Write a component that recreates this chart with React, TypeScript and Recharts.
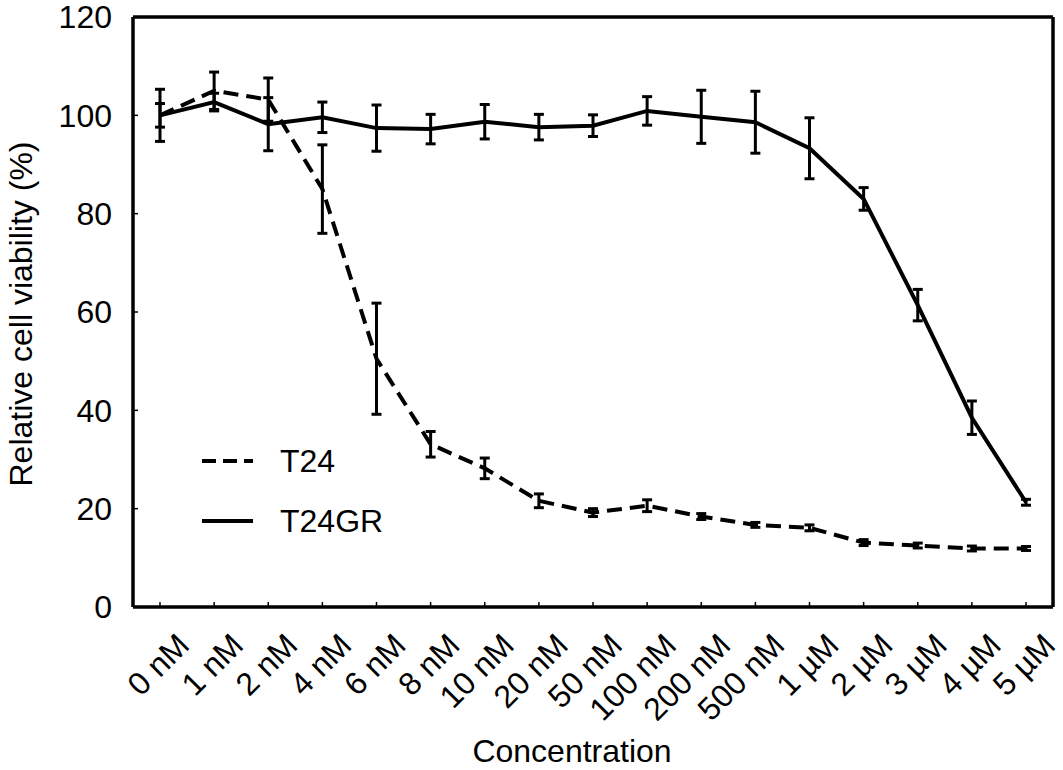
import React from 'react';
import { LineChart, Line, XAxis, YAxis, ErrorBar, Legend, Label } from 'recharts';

const categories = ['0 nM', '1 nM', '2 nM', '4 nM', '6 nM', '8 nM', '10 nM', '20 nM', '50 nM', '100 nM', '200 nM', '500 nM', '1 µM', '2 µM', '3 µM', '4 µM', '5 µM'];
const t24 = [100, 105, 103.2, 85, 50.5, 33.1, 28.2, 21.6, 19.2, 20.6, 18.4, 16.7, 16.1, 13.1, 12.5, 11.9, 11.9];
const t24Err = [2.4, 3.8, 4.4, 9, 11.3, 2.6, 2.1, 1.4, 0.8, 1.2, 0.6, 0.5, 0.6, 0.6, 0.5, 0.5, 0.4];
const t24gr = [100, 102.7, 98.2, 99.6, 97.4, 97.2, 98.7, 97.6, 97.9, 100.9, 99.7, 98.6, 93.3, 83, 61.4, 38.5, 21.3];
const t24grErr = [5.3, 1.8, 5.4, 3.1, 4.7, 3, 3.5, 2.6, 2.2, 2.9, 5.4, 6.3, 6.2, 2.3, 3.2, 3.4, 0.6];
const yTicks = [0, 20, 40, 60, 80, 100, 120];

const data = categories.map((c, i) => ({
  name: c,
  t24: t24[i],
  t24Err: t24Err[i],
  t24gr: t24gr[i],
  t24grErr: t24grErr[i],
}));

const FONT = '"Liberation Sans", Arial, sans-serif';
const FS = 32;

const YTick = (props: any) => {
  const { x, y, payload } = props;
  return (
    <g>
      <line x1={x + 21} x2={x + 26} y1={y} y2={y} stroke="#000" strokeWidth={1.5} />
      <text x={x} y={y} dy="0.35em" textAnchor="end" fontFamily={FONT} fontSize={FS} fill="#000">
        {payload.value}
      </text>
    </g>
  );
};

const XTick = (props: any) => {
  const { x, y, payload } = props;
  return (
    <g>
      <line x1={x} x2={x} y1={y - 5} y2={y} stroke="#000" strokeWidth={1.5} />
      <text
        transform={`translate(${x + 15},${y + 24}) rotate(-45)`}
        dy="0.71em"
        textAnchor="end"
        fontFamily={FONT}
        fontSize={FS}
        fill="#000"
      >
        {payload.value}
      </text>
    </g>
  );
};

const LegendBox = () => (
  <div style={{ fontFamily: FONT, fontSize: FS, color: '#000' }}>
    {[
      { label: 'T24', dash: '14 7' },
      { label: 'T24GR', dash: undefined },
    ].map((item) => (
      <div key={item.label} style={{ display: 'flex', alignItems: 'center', height: 60 }}>
        <svg width={56} height={10} style={{ marginRight: 25 }}>
          <line x1={3} x2={54} y1={5} y2={5} stroke="#000" strokeWidth={4} strokeDasharray={item.dash} />
        </svg>
        <span style={{ lineHeight: 1 }}>{item.label}</span>
      </div>
    ))}
  </div>
);

export default function App() {
  return (
    <div style={{ position: 'absolute', left: 0, top: 0, background: '#fff' }}>
      <LineChart width={1063} height={770} data={data} margin={{ top: 16, right: 9, left: 0, bottom: 0 }}>
        <XAxis
          dataKey="name"
          interval={0}
          height={163}
          padding={{ left: 27, right: 27 }}
          axisLine={{ stroke: '#000', strokeWidth: 3.5 }}
          tickLine={false}
          tickSize={0}
          tickMargin={0}
          tick={<XTick />}
        >
          <Label
            value="Concentration"
            position="insideBottom"
            offset={8}
            dx={-21}
            style={{ fontFamily: FONT, fontSize: FS, fill: '#000' }}
          />
        </XAxis>
        <XAxis xAxisId="top" dataKey="name" orientation="top" height={1} tick={false} tickLine={false} axisLine={{ stroke: '#000', strokeWidth: 3.5 }} />
        <YAxis
          domain={[0, 120]}
          ticks={yTicks}
          width={133}
          axisLine={{ stroke: '#000', strokeWidth: 3.5 }}
          tickLine={false}
          tickSize={0}
          tickMargin={21}
          tick={<YTick />}
          allowDataOverflow
        >
          <Label
            content={(p: any) => {
              const vb = p.viewBox || {};
              const cx = (vb.x || 0) + 21;
              const cy = (vb.y || 0) + (vb.height || 0) / 2 + 2;
              return (
                <text
                  x={cx}
                  y={cy}
                  transform={`rotate(-90, ${cx}, ${cy})`}
                  textAnchor="middle"
                  dy="0.35em"
                  fontFamily={FONT}
                  fontSize={FS}
                  fill="#000"
                >
                  Relative cell viability (%)
                </text>
              );
            }}
          />
        </YAxis>
        <YAxis yAxisId="right" orientation="right" width={1} domain={[0, 120]} tick={false} tickLine={false} axisLine={{ stroke: '#000', strokeWidth: 3.5 }} />
        <Legend
          layout="vertical"
          verticalAlign="middle"
          align="center"
          wrapperStyle={{ position: 'absolute', left: 199, top: 431, width: 220 }}
          content={<LegendBox />}
        />
        <Line
          type="linear"
          dataKey="t24"
          stroke="#000"
          strokeWidth={4}
          strokeDasharray="15 8"
          dot={false}
          activeDot={false}
          isAnimationActive={false}
        >
          <ErrorBar dataKey="t24Err" width={5} stroke="#000" strokeWidth={3} direction="y" isAnimationActive={false} />
        </Line>
        <Line
          type="linear"
          dataKey="t24gr"
          stroke="#000"
          strokeWidth={4}
          dot={false}
          activeDot={false}
          isAnimationActive={false}
        >
          <ErrorBar dataKey="t24grErr" width={5} stroke="#000" strokeWidth={3} direction="y" isAnimationActive={false} />
        </Line>
      </LineChart>
    </div>
  );
}
